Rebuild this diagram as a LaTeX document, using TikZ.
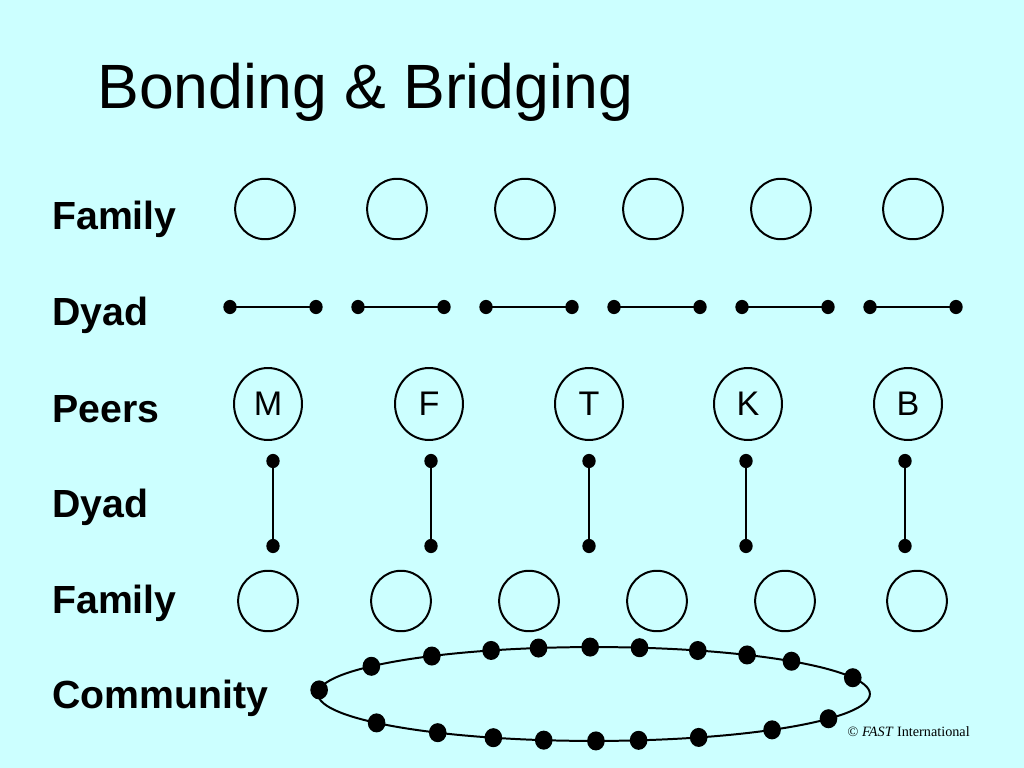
\documentclass[tikz,border=0pt]{standalone}
\usepackage{fontspec}
\setmainfont{Liberation Sans}
\newfontfamily\timesfont{Liberation Serif}
\usetikzlibrary{shapes.geometric,calc}
\definecolor{bg}{RGB}{204,255,255}
\begin{document}
\begin{tikzpicture}[x=0.703125pt,y=-0.703125pt,
 fam/.style={draw, line width=1.4pt, ellipse, minimum width=42pt, minimum height=42.5pt, inner sep=0pt},
 peer/.style={draw, line width=1.4pt, ellipse, minimum width=47.8pt, minimum height=50.6pt, inner sep=0pt, font=\fontsize{24}{28}\selectfont},
 dot/.style={fill, ellipse, minimum width=9.4pt, minimum height=10pt, inner sep=0pt},
 bigdot/.style={fill, ellipse, minimum width=12.4pt, minimum height=13.4pt, inner sep=0pt},
 lab/.style={anchor=base west, font=\fontsize{27.6}{32}\selectfont\bfseries, inner sep=0pt},
 link/.style={line width=1pt},
 ring/.style={line width=1.4pt}]
\fill[bg] (0,0) rectangle (1024,768);
\useasboundingbox (0,0) rectangle (1024,768);
% title
\node[anchor=base west, inner sep=0pt, font=\fontsize{44}{50}\selectfont] (title) at (97,109) {Bonding \& Bridging};
% row labels
\node[lab] (l1) at (52,230) {Family};
\node[lab] (l2) at (52,326) {Dyad};
\node[lab] (l3) at (52,422) {Peers};
\node[lab] (l4) at (52,517) {Dyad};
\node[lab] (l5) at (52,613) {Family};
\node[lab] (l6) at (52,708) {Community};
% top family
\foreach \a [count=\i] in {265,397,525,653,781,913}
  \node[fam] (ft\i) at (\a,209) {};
% horizontal dyads
\foreach \a [count=\i] in {230,358,486,614,742,870}{
  \node[dot] (da\i) at (\a,307) {};
  \node[dot] (db\i) at (\a+86,307) {};
  \draw[link] (da\i.center) -- (db\i.center);
}
% peers
\foreach \a/\t [count=\i] in {268/M,429/F,589/T,748/K,908/B}
  \node[peer] (p\i) at (\a,404) {\t};
% vertical dyads
\foreach \a [count=\i] in {273,431,589,746,905}{
  \node[dot] (va\i) at (\a,461) {};
  \node[dot] (vb\i) at (\a,546) {};
  \draw[link] (va\i.center) -- (vb\i.center);
}
% bottom family
\foreach \a [count=\i] in {268,401,529,657,785,917}
  \node[fam] (fb\i) at (\a,601) {};
% community
\coordinate (cc) at (594,694);
\draw[ring] (cc) ellipse [x radius=194pt, y radius=33pt];
\foreach \t [count=\i] in {175,143.8,126,111.9,101.6,90.8,80.5,67.9,56.3,44.3,20.3,218,235.5,248.6,259.5,270.4,279.3,292.3,310.2,328.2}
  \node[bigdot] (c\i) at ($(cc)+(\t:194pt and 33pt)$) {};
% copyright
\node[anchor=base east, inner sep=0pt, font=\timesfont\fontsize{10}{12}\selectfont] (copy) at (970,736) {© \textit{FAST} International};
\end{tikzpicture}
\end{document}
